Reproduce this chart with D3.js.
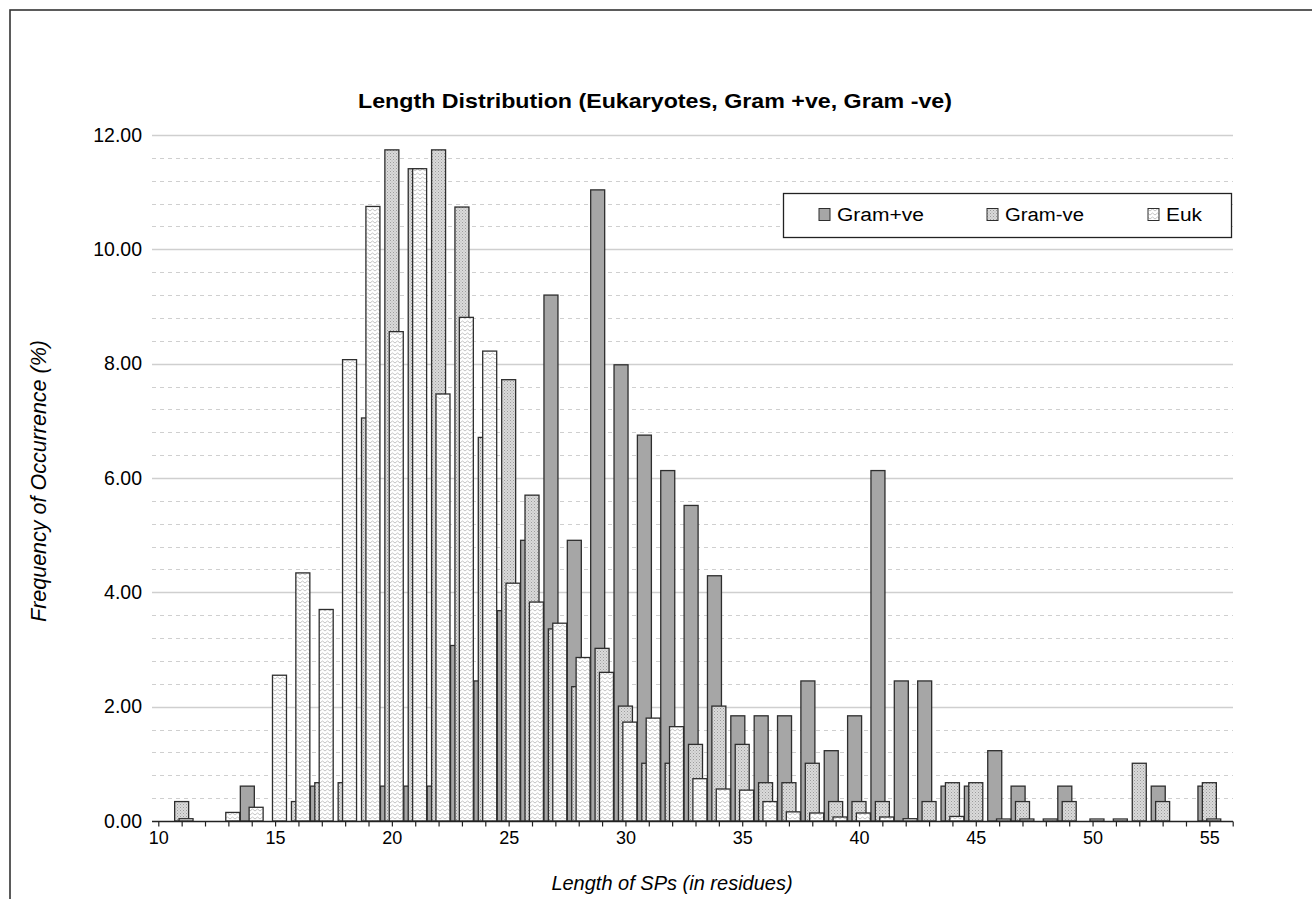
<!DOCTYPE html>
<html><head><meta charset="utf-8">
<script src="https://cdn.jsdelivr.net/npm/d3@7"></script>
<style>
body{margin:0;background:#fff}
svg{display:block}
text{font-family:"Liberation Sans",Arial,sans-serif;fill:#000}
</style>
</head><body>
<svg id="c" width="1312" height="899"></svg>
<script>
// ---- data ----
const categories = [10,11,12,13,14,15,16,17,18,19,20,21,22,23,24,25,26,27,28,29,30,31,32,33,34,35,36,37,38,39,40,41,42,43,44,45,46,47,48,49,50,51,52,53,54,55];
const gramPos = [0,0,0,0,0.61,0,0,0.61,0,0,0.61,0.61,0.61,3.07,2.45,3.68,4.91,9.20,4.91,11.04,7.98,6.75,6.13,5.52,4.29,1.84,1.84,1.84,2.45,1.23,1.84,6.13,2.45,2.45,0.61,0.61,1.23,0.61,0,0.61,0,0,0,0.61,0,0.61];
const gramNeg = [0,0.34,0,0,0,0,0.34,0.67,0.67,7.05,11.74,11.41,11.74,10.74,6.71,7.72,5.70,3.36,2.35,3.02,2.01,1.01,1.01,1.34,2.01,1.34,0.67,0.67,1.01,0.34,0.34,0.34,0,0.34,0.67,0.67,0,0.34,0,0.34,0,0,1.01,0.34,0,0.67];
const euk = [0,0.04,0,0.15,0.24,2.55,4.34,3.70,8.07,10.75,8.56,11.41,7.47,8.81,8.22,4.16,3.83,3.46,2.86,2.60,1.73,1.80,1.65,0.74,0.56,0.54,0.34,0.16,0.14,0.07,0.14,0.07,0.04,0,0.08,0,0.035,0.035,0.035,0,0.035,0.035,0,0,0,0.035];
const seriesNames = ["Gram+ve","Gram-ve","Euk"];
const yTicks = [0,2,4,6,8,10,12];
const xTickLabels = [10,15,20,25,30,35,40,45,50,55];

const svg = d3.select("#c");
const defs = svg.append("defs");
const p1 = defs.append("pattern").attr("id","pNeg").attr("patternUnits","userSpaceOnUse").attr("width",3).attr("height",3);
p1.append("rect").attr("width",3).attr("height",3).attr("fill","#dadada");
p1.append("rect").attr("x",0).attr("y",0).attr("width",1).attr("height",1).attr("fill","#9c9c9c");
p1.append("rect").attr("x",1.5).attr("y",1.5).attr("width",1).attr("height",1).attr("fill","#b0b0b0");
const p2 = defs.append("pattern").attr("id","pEuk").attr("patternUnits","userSpaceOnUse").attr("width",5).attr("height",4);
p2.append("rect").attr("width",5).attr("height",4).attr("fill","#ffffff");
p2.append("path").attr("d","M0,3 L2.5,1 L5,3").attr("fill","none").attr("stroke","#bdbdbd").attr("stroke-width",0.9);

const fills = ["#a6a6a6","url(#pNeg)","url(#pEuk)"];
const data = [gramPos, gramNeg, euk];

svg.append("rect").attr("x",10).attr("y",10).attr("width",1320).attr("height",900)
  .attr("fill","none").attr("stroke","#333").attr("stroke-width",1.6);

const x = d3.scaleLinear().domain([10,56]).range([158.3,1232.7]);
const y = d3.scaleLinear().domain([0,12]).range([821,135]);
const plotL = 152, plotR = 1233;

const minor = d3.range(0,12.01,0.4).filter(v => Math.abs(v/2 - Math.round(v/2))>1e-6);
svg.append("g").selectAll("line").data(minor).join("line")
  .attr("x1",plotL).attr("x2",plotR).attr("y1",d=>Math.round(y(d))+0.5).attr("y2",d=>Math.round(y(d))+0.5)
  .attr("stroke","#cfcfcf").attr("stroke-width",1).attr("stroke-dasharray","4,4");
svg.append("g").selectAll("line").data(yTicks.filter(d=>d>0)).join("line")
  .attr("x1",plotL).attr("x2",plotR).attr("y1",d=>Math.round(y(d))+0.5).attr("y2",d=>Math.round(y(d))+0.5)
  .attr("stroke","#cfcfcf").attr("stroke-width",1.4);

const barW = 14;
const offs = [-4.4, 0, 4.4];
data.forEach((vals, si) => {
  svg.append("g").selectAll("rect")
    .data(categories.map((c,i)=>({c, v: vals[i]})).filter(d=>d.v>0))
    .join("rect")
    .attr("x", d => x(d.c) + offs[si] - barW/2)
    .attr("y", d => y(d.v))
    .attr("width", barW)
    .attr("height", d => y(0) - y(d.v))
    .attr("fill", fills[si])
    .attr("stroke","#2e2e2e").attr("stroke-width",1.3);
});

svg.append("line").attr("x1",plotL).attr("x2",plotR).attr("y1",821.5).attr("y2",821.5).attr("stroke","#222").attr("stroke-width",1.3);
const xAxis = d3.axisBottom(x).tickValues(d3.range(10,57)).tickSize(5).tickPadding(5)
  .tickFormat(d => xTickLabels.includes(d) ? String(d) : "");
const gx = svg.append("g").attr("transform","translate(0,821.5)").call(xAxis);
gx.select(".domain").remove();
gx.selectAll(".tick line").attr("stroke","#222").attr("stroke-width",1.2);
gx.selectAll(".tick text").attr("font-size",18).attr("font-family","Liberation Sans, Arial, sans-serif").attr("fill","#000");

const yAxis = d3.axisLeft(y).tickValues(yTicks).tickSize(0).tickPadding(10).tickFormat(d3.format(".2f"));
const gy = svg.append("g").attr("transform",`translate(${plotL},0)`).call(yAxis);
gy.select(".domain").remove();
gy.selectAll(".tick text").attr("font-size",19.5).attr("font-family","Liberation Sans, Arial, sans-serif").attr("fill","#000");

svg.append("text").attr("x",655).attr("y",108).attr("text-anchor","middle")
  .attr("font-size",21).attr("font-weight","bold")
  .attr("textLength",594).attr("lengthAdjust","spacingAndGlyphs")
  .text("Length Distribution (Eukaryotes, Gram +ve, Gram -ve)");
svg.append("text").attr("x",672).attr("y",890).attr("text-anchor","middle")
  .attr("font-size",20).attr("font-style","italic").text("Length of SPs (in residues)");
svg.append("text").attr("transform","translate(46,481) rotate(-90)").attr("text-anchor","middle")
  .attr("font-size",21.5).attr("font-style","italic").text("Frequency of Occurrence (%)");

const lg = svg.append("g");
lg.append("rect").attr("x",783.5).attr("y",193.5).attr("width",448).attr("height",44)
  .attr("fill","#fff").attr("stroke","#222").attr("stroke-width",1.3);
const legX = [819, 987, 1148];
const legW = [87, 79, 36];
seriesNames.forEach((n,i)=>{
  lg.append("rect").attr("x",legX[i]).attr("y",208.5).attr("width",11).attr("height",12)
    .attr("fill",fills[i]).attr("stroke","#2e2e2e").attr("stroke-width",1);
  lg.append("text").attr("x",legX[i]+18).attr("y",221).attr("font-size",18)
    .attr("textLength",legW[i]).attr("lengthAdjust","spacingAndGlyphs").text(n);
});
</script>
</body></html>
